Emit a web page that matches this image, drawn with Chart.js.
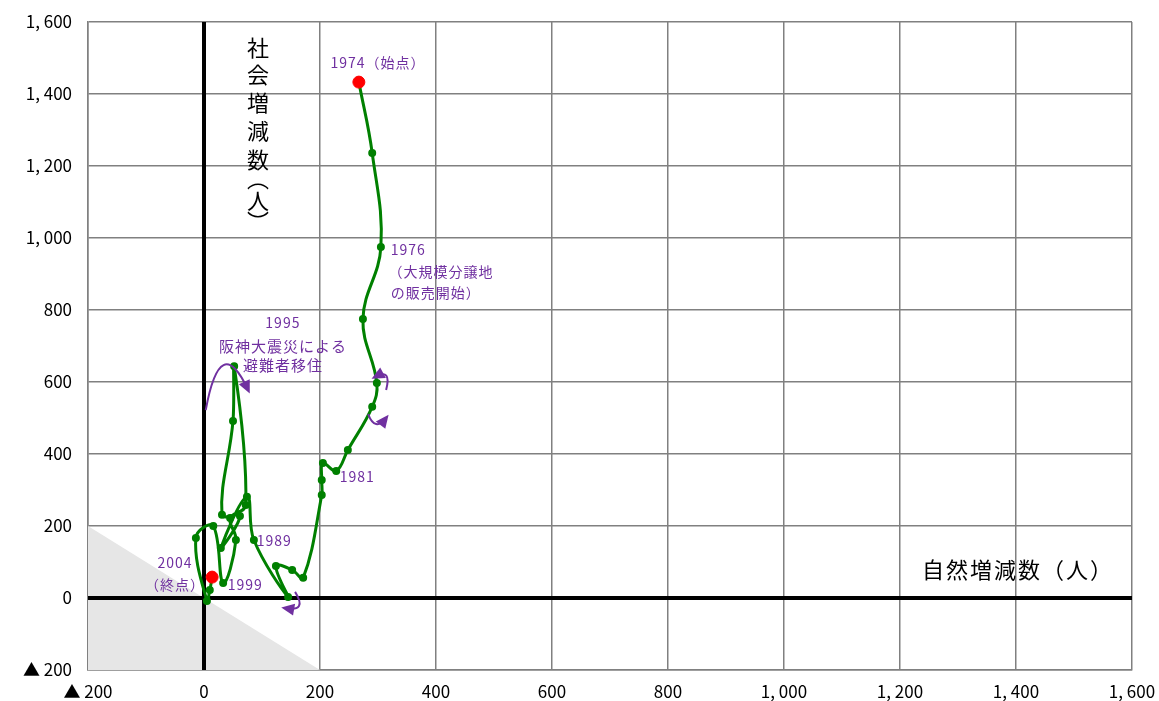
<!DOCTYPE html>
<html lang="ja">
<head>
<meta charset="utf-8">
<script src="https://cdn.jsdelivr.net/npm/chart.js@4"></script>
<style>
  body { margin: 0; background: #fff; }
  #wrap { width: 1159px; height: 701px; }
</style>
</head>
<body>
<div id="wrap"><canvas id="chart"></canvas></div>
<script>
// 年ごとの人口増減（自然増減 x, 社会増減 y）
const years = [1974, 1975, 1976, 1977, 1978, 1979, 1980, 1981, 1982, 1983, 1984, 1985, 1986, 1987, 1988,
  1989, 1990, 1991, 1992, 1993, 1994, 1995, 1996, 1997, 1998, 1999, 2000, 2001, 2002, 2003, 2004];
const natural = [267, 290, 305, 274, 298, 290, 248, 228, 205, 203, 203, 171, 152, 124, 145,
  86, 74, 29, 62, 31, 50, 52, 72, 45, 55, 33, 16, -14, 5, 10, 14];
const social = [1433, 1236, 975, 775, 597, 531, 411, 353, 375, 328, 286, 56, 78, 89, 3,
  161, 281, 139, 228, 231, 492, 644, 258, 222, 161, 42, 200, 167, -8, 22, 58];

// 人口減少域（自然増減＋社会増減＜0）
const shadeX = [-200, 200];
const shadeY = [200, -200];

const axisMin = -200, axisMax = 1600, axisStep = 200;

const purple = '#7030A0';
const jp = '"Noto Sans CJK JP", "Noto Sans", sans-serif';

function fmt(v) {
  const a = Math.abs(v);
  const s = a >= 1000 ? Math.floor(a / 1000) + ', ' + String(a % 1000).padStart(3, '0') : String(a);
  return v < 0 ? '▲ ' + s : s;
}

// 注記（データ座標）
const notes = [
  { text: '1974（始点）', x: 300, y: 1486, align: 'center', size: 14 },
  { text: '1976', x: 322, y: 967, align: 'left', size: 14 },
  { text: '（大規模分譲地', x: 318, y: 906, align: 'left', size: 14 },
  { text: 'の販売開始）', x: 322, y: 847, align: 'left', size: 14 },
  { text: '1995', x: 136, y: 764, align: 'center', size: 14 },
  { text: '阪神大震災による', x: 136, y: 700, align: 'center', size: 15 },
  { text: '避難者移住', x: 136, y: 647, align: 'center', size: 15 },
  { text: '1981', x: 234, y: 336, align: 'left', size: 14 },
  { text: '1989', x: 91, y: 158, align: 'left', size: 14 },
  { text: '2004', x: -50, y: 97, align: 'center', size: 14 },
  { text: '（終点）', x: -50, y: 36, align: 'center', size: 14 },
  { text: '1999', x: 41, y: 36, align: 'left', size: 14 }
];

// 向きを示す矢印（始点・制御点・終点）
const arrows = [
  [[3, 522], [28, 744], [76, 578]],
  [[314, 578], [324, 639], [295, 614]],
  [[283, 511], [295, 461], [314, 500]],
  [[157, 17], [179, -39], [140, -28]]
];

const decorations = {
  id: 'decorations',
  afterDatasetDraw(chart, args) {
    if (chart.data.datasets[args.index].label !== 'shade') return;
    const { ctx, chartArea: a, scales: { x, y } } = chart;
    const x0 = x.getPixelForValue(0), y0 = y.getPixelForValue(0);
    ctx.save();
    ctx.strokeStyle = '#000';
    ctx.lineWidth = 4;
    ctx.beginPath();
    ctx.moveTo(x0, a.top); ctx.lineTo(x0, a.bottom);
    ctx.moveTo(a.left, y0); ctx.lineTo(a.right, y0);
    ctx.stroke();
    ctx.restore();
  },
  afterDatasetsDraw(chart) {
    const { ctx, scales: { x, y } } = chart;
    ctx.save();

    // 縦軸タイトル（縦書き）
    ctx.fillStyle = '#000';
    ctx.font = '22px ' + jp;
    ctx.textAlign = 'center';
    ctx.textBaseline = 'middle';
    const vx = x.getPixelForValue(93), vy = y.getPixelForValue(1528);
    const vchars = ['社', '会', '増', '減', '数', '︵', '人', '︶'];
    const voff = [0, 27, 55, 83, 112, 131, 153, 174];
    vchars.forEach((c, i) => ctx.fillText(c, vx, vy + voff[i]));

    // 横軸タイトル
    ctx.textAlign = 'left';
    ctx.letterSpacing = '2px';
    ctx.fillText('自然増減数（人）', x.getPixelForValue(1238), y.getPixelForValue(78));

    // 注記
    ctx.fillStyle = purple;
    ctx.letterSpacing = '1px';
    notes.forEach(n => {
      ctx.font = n.size + 'px ' + jp;
      ctx.textAlign = n.align;
      ctx.fillText(n.text, x.getPixelForValue(n.x), y.getPixelForValue(n.y));
    });
    ctx.letterSpacing = '0px';

    // 矢印
    ctx.strokeStyle = purple;
    ctx.lineWidth = 2;
    arrows.forEach(([s, c, e]) => {
      const sx = x.getPixelForValue(s[0]), sy = y.getPixelForValue(s[1]);
      const cx = x.getPixelForValue(c[0]), cy = y.getPixelForValue(c[1]);
      const ex = x.getPixelForValue(e[0]), ey = y.getPixelForValue(e[1]);
      ctx.beginPath();
      ctx.moveTo(sx, sy);
      ctx.quadraticCurveTo(cx, cy, ex, ey);
      ctx.stroke();
      const ang = Math.atan2(ey - cy, ex - cx);
      const len = 13, wid = 6;
      const tx = ex + Math.cos(ang) * 4, ty = ey + Math.sin(ang) * 4;
      ctx.beginPath();
      ctx.moveTo(tx, ty);
      ctx.lineTo(tx - Math.cos(ang) * len - Math.sin(ang) * wid, ty - Math.sin(ang) * len + Math.cos(ang) * wid);
      ctx.lineTo(tx - Math.cos(ang) * len + Math.sin(ang) * wid, ty - Math.sin(ang) * len - Math.cos(ang) * wid);
      ctx.closePath();
      ctx.fill();
    });
    ctx.restore();
  }
};

const path = years.map((yr, i) => ({ x: natural[i], y: social[i] }));
const last = years.length - 1;

const axis = (fit) => ({
  type: 'linear',
  min: axisMin,
  max: axisMax,
  afterFit: fit,
  ticks: {
    stepSize: axisStep,
    color: '#000',
    font: { family: jp, size: 17 },
    callback: v => fmt(v)
  },
  grid: {
    color: c => c.tick && c.tick.value === 0 ? '#000' : '#808080',
    lineWidth: c => c.tick && c.tick.value === 0 ? 4 : 1.5,
    drawTicks: false
  },
  border: { display: true, color: '#808080', width: 1.5 }
});

const xAxis = axis(s => { s.height = 31; s.paddingLeft = 0; s.paddingRight = 0; });
xAxis.ticks.padding = 11;
const yAxis = axis(s => { s.width = 88; s.paddingTop = 0; s.paddingBottom = 0; });
yAxis.ticks.padding = 16;

new Chart(document.getElementById('chart'), {
  type: 'scatter',
  data: {
    datasets: [
      {
        label: 'ends',
        data: [path[0], path[last]],
        backgroundColor: '#ff0000',
        borderColor: '#ff0000',
        pointRadius: 6,
        order: 0
      },
      {
        label: 'path',
        data: path,
        showLine: true,
        tension: 0.4,
        borderColor: '#008000',
        borderWidth: 3,
        backgroundColor: '#008000',
        pointBackgroundColor: '#008000',
        pointBorderColor: '#008000',
        pointRadius: 2.5,
        order: 1
      },
      {
        label: 'shade',
        data: shadeX.map((v, i) => ({ x: v, y: shadeY[i] })),
        showLine: true,
        fill: 'start',
        backgroundColor: '#e6e6e6',
        borderColor: 'rgba(0,0,0,0)',
        pointRadius: 0,
        order: 2
      }
    ]
  },
  options: {
    responsive: true,
    maintainAspectRatio: false,
    animation: false,
    layout: { padding: { top: 22, right: 27, left: 0, bottom: 0 } },
    plugins: {
      legend: { display: false },
      tooltip: { enabled: false }
    },
    scales: { x: xAxis, y: yAxis }
  },
  plugins: [decorations]
});
</script>
</body>
</html>
